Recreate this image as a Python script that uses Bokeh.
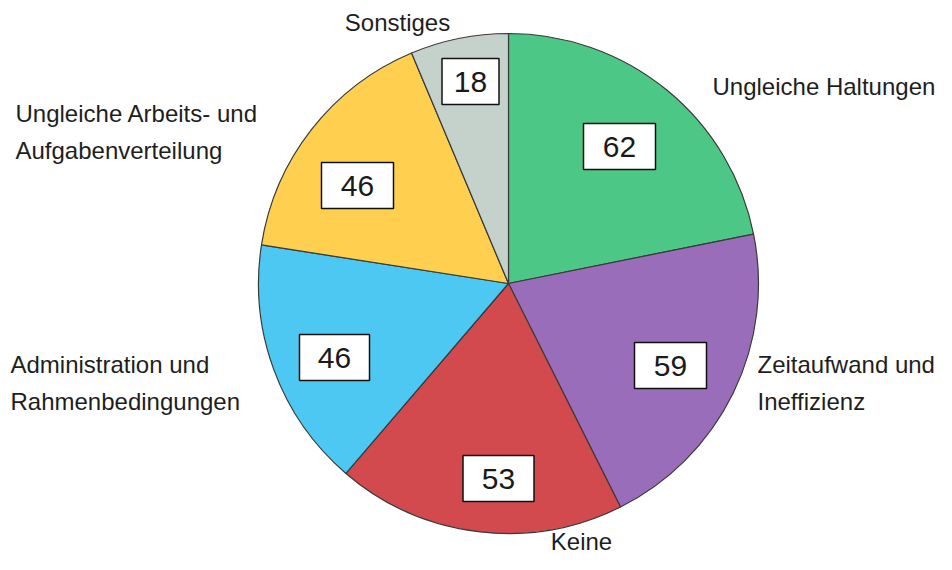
import math
from bokeh.plotting import figure
from bokeh.models import Range1d
from bokeh.core.properties import value
from bokeh.embed import file_html
from bokeh.resources import INLINE

# ---- data ----
categories = ["Ungleiche Haltungen", "Zeitaufwand und\nIneffizienz", "Keine",
              "Administration und\nRahmenbedingungen",
              "Ungleiche Arbeits- und\nAufgabenverteilung", "Sonstiges"]
counts = [62, 59, 53, 46, 46, 18]
colors = ["#4DC785", "#9A6DBB", "#D24A4D", "#4CC8F2", "#FFD04F", "#C5D1CB"]

# ---- layout (pixels from the top-left of the figure) ----
W, H = 936, 554
CX, CY, R = 508, 283, 250
FONT = "Liberation Sans"
# centre and width of value boxes
box_pos = [(619, 146), (670, 365), (498, 478), (334, 357), (357, 185), (470, 81)]
box_w = [72, 72, 71, 70, 72, 57]
BOX_H = 46
# outer labels: (x, first line centre y, align)
lab_pos = [(712, 86, "left"), (757, 364, "left"), (581, 541, "center"),
           (10, 364, "left"), (15, 113, "left"), (397, 22, "center")]
LINE_H = 37

def sy(y):
    return H - y

p = figure(width=W, height=H, output_backend="svg", toolbar_location=None,
           x_range=Range1d(0, W), y_range=Range1d(0, H),
           min_border=0, outline_line_color=None)
p.axis.visible = False
p.grid.visible = False
p.background_fill_color = "white"
p.border_fill_color = "white"

total = sum(counts)
cum = 0
starts, ends = [], []
for c in counts:
    a0 = cum / total
    cum += c
    a1 = cum / total
    starts.append(math.pi / 2 - 2 * math.pi * a1)
    ends.append(math.pi / 2 - 2 * math.pi * a0)

p.wedge(x=CX, y=sy(CY), radius=R, start_angle=starts, end_angle=ends,
        fill_color=colors, line_color="#3a3a3a", line_width=1.2)

# value boxes
bx = [b[0] for b in box_pos]
by = [sy(b[1]) for b in box_pos]
p.rect(x=bx, y=by, width=box_w, height=BOX_H, width_units="screen", height_units="screen",
       fill_color="white", line_color="#111111", line_width=1.5)
p.text(x=bx, y=by, text=[str(c) for c in counts], text_font=value(FONT),
       text_font_size="30px", text_color="#1a1a1a", text_align="center",
       text_baseline="middle")

# outer labels
xs, ys, ts, aligns = [], [], [], []
for cat, (x, y, al) in zip(categories, lab_pos):
    for i, line in enumerate(cat.split("\n")):
        xs.append(x)
        ys.append(sy(y + i * LINE_H))
        ts.append(line)
        aligns.append(al)
p.text(x=xs, y=ys, text=ts, text_align=aligns, text_baseline="middle",
       text_font=value(FONT), text_font_size="24px", text_color="#1e1e1e")

open("out.html", "w").write(file_html(p, INLINE))
